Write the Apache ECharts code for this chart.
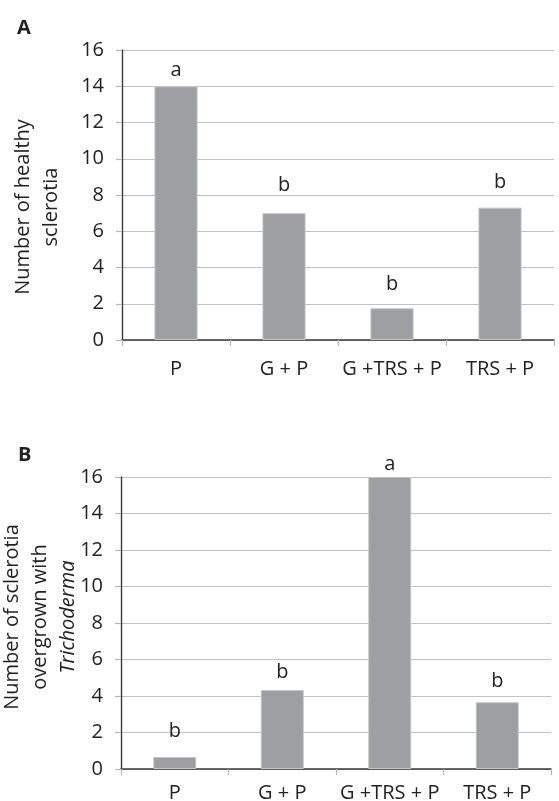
<!DOCTYPE html>
<html>
<head>
<meta charset="utf-8">
<script src="https://cdn.jsdelivr.net/npm/echarts@6/dist/echarts.min.js"></script>
<style>html,body{margin:0;padding:0;background:#fff}#c{width:559px;height:801px}</style>
</head>
<body>
<div id="c"></div>
<script>
const categories = ['P', 'G + P', 'G +TRS + P', 'TRS + P'];
const healthyValues = [14, 7.0, 1.75, 7.3];
const healthyLetters = ['a', 'b', 'b', 'b'];
const overgrownValues = [0.66, 4.33, 16, 3.66];
const overgrownLetters = ['b', 'b', 'a', 'b'];
const yTicks = [0, 2, 4, 6, 8, 10, 12, 14, 16];

const FONT = 'Open Sans';
const FS = 20;
const chart = echarts.init(document.getElementById('c'), null, {renderer: 'canvas'});

function xAxis(gridIndex, margin) {
  return {
    type: 'category', gridIndex, data: categories,
    axisLine: {lineStyle: {color: '#3a3a3a', width: 1.5}},
    axisTick: {show: true, length: 6, lineStyle: {color: '#b8b8b8', width: 1.2}},
    axisLabel: {color: '#222', fontSize: FS, fontFamily: FONT, margin: margin, interval: 0, hideOverlap: false}
  };
}
function yAxis(gridIndex, name, nameGap, padding, rich) {
  return {
    type: 'value', gridIndex, min: yTicks[0], max: yTicks[yTicks.length - 1], interval: 2,
    name, nameLocation: 'middle', nameRotate: 90, nameGap, nameMoveOverlap: false,
    nameTextStyle: Object.assign({color: '#222', fontSize: FS, fontFamily: FONT, lineHeight: 28, padding}, rich ? {rich} : {}),
    axisLine: {show: true, lineStyle: {color: '#3a3a3a', width: 1.4}},
    axisTick: {show: true, length: 6, lineStyle: {color: '#b8b8b8', width: 1.2}},
    axisLabel: {color: '#222', fontSize: FS, fontFamily: FONT, margin: 18},
    splitLine: {show: true, lineStyle: {color: '#c4c4c4', width: 1.2}}
  };
}
function barSeries(idx, values, letters, distances) {
  return {
    type: 'bar', xAxisIndex: idx, yAxisIndex: idx, barWidth: '40%',
    itemStyle: {color: '#9e9fa2', borderColor: '#c6c6c6', borderWidth: 1},
    data: values.map((v, i) => ({
      value: v,
      label: {show: true, position: 'top', formatter: letters[i], distance: distances[i],
        color: '#222', fontSize: FS, fontFamily: FONT}
    })),
    z: 3
  };
}

chart.setOption({
  animation: false,
  title: [
    {text: 'A', left: 12, top: 13, textStyle: {fontSize: FS, fontWeight: 'bold', fontFamily: FONT, color: '#222'}},
    {text: 'B', left: 13, top: 440, textStyle: {fontSize: FS, fontWeight: 'bold', fontFamily: FONT, color: '#222'}}
  ],
  grid: [
    {left: 122, right: 5, top: 50, bottom: 461, outerBoundsMode: 'none', containLabel: false},
    {left: 121, right: 8, top: 477, bottom: 32, outerBoundsMode: 'none', containLabel: false}
  ],
  xAxis: [xAxis(0, 19), xAxis(1, 14)],
  yAxis: [
    yAxis(0, 'Number of healthy\nsclerotia', 57, [0, 24, 0, 0]),
    yAxis(1, 'Number of sclerotia\novergrown with\n{i|Trichoderma}', 39, [0, 0, 0, 12],
      {i: {fontStyle: 'italic', fontSize: FS, fontFamily: FONT, color: '#222', lineHeight: 28}})
  ],
  series: [
    barSeries(0, healthyValues, healthyLetters, [6, 18, 14, 15]),
    barSeries(1, overgrownValues, overgrownLetters, [16, 8, 3, 11])
  ]
});
</script>
</body>
</html>
